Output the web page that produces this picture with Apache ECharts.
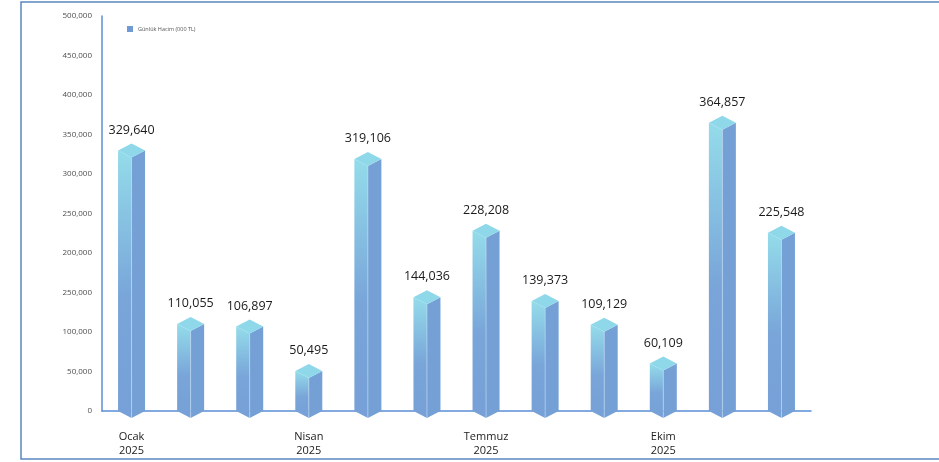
<!DOCTYPE html>
<html>
<head>
<meta charset="utf-8">
<script src="https://cdn.jsdelivr.net/npm/echarts@6/dist/echarts.min.js"></script>
<style>
  html, body { margin: 0; padding: 0; background: #fff; }
  #chart { width: 939px; height: 462px; }
</style>
</head>
<body>
<div id="chart"></div>
<script>
var categories = ['Ocak\n2025', 'Şubat\n2025', 'Mart\n2025', 'Nisan\n2025', 'Mayıs\n2025', 'Haziran\n2025',
                  'Temmuz\n2025', 'Ağustos\n2025', 'Eylül\n2025', 'Ekim\n2025', 'Kasım\n2025', 'Aralık\n2025'];
var volumes = [329640, 110055, 106897, 50495, 319106, 144036, 228208, 139373, 109129, 60109, 364857, 225548];
// y tick labels as printed on the original (the 150,000 tick reads 250,000 there)
var yTickLabels = ['0', '50,000', '100,000', '250,000', '200,000', '250,000', '300,000', '350,000', '400,000', '450,000', '500,000'];
var seriesName = 'Günlük Hacim (000 TL)';

var myChart = echarts.init(document.getElementById('chart'));

function fmt(v) {
    return v.toString().replace(/\B(?=(\d{3})+(?!\d))/g, ',');
}

function renderBar(params, api) {
    var top = api.coord([api.value(0), api.value(1)]);
    var base = api.coord([api.value(0), 0]);
    var cx = top[0], y = top[1], b = base[1];
    var w = 13.5, d = 7;
    var grad = new echarts.graphic.LinearGradient(0, 0, 0, 1, [
        { offset: 0, color: '#94dcea' },
        { offset: 0.55, color: '#79a5d9' },
        { offset: 1, color: '#76a0d7' }
    ]);
    return {
        type: 'group',
        children: [
            {   // left face
                type: 'polygon',
                shape: { points: [[cx - w, y], [cx, y + d], [cx, b + d], [cx - w, b]] },
                style: { fill: grad }
            },
            {   // right face
                type: 'polygon',
                shape: { points: [[cx, y + d], [cx + w, y], [cx + w, b], [cx, b + d]] },
                style: { fill: '#74a0d6' }
            },
            {   // edge highlight
                type: 'line',
                shape: { x1: cx, y1: y + d, x2: cx, y2: b + d },
                style: { stroke: 'rgba(200,225,245,0.7)', lineWidth: 0.8 }
            },
            {   // top face
                type: 'polygon',
                shape: { points: [[cx, y - d], [cx + w, y], [cx, y + d], [cx - w, y]] },
                style: { fill: '#8fd8ea' }
            },
            {
                type: 'text',
                style: {
                    x: cx, y: y - d - 7,
                    text: fmt(api.value(1)),
                    align: 'center', verticalAlign: 'bottom',
                    fontSize: 12.5, fill: '#1a1a1a', fontFamily: 'Open Sans'
                }
            }
        ]
    };
}

option = {
    animation: false,
    textStyle: { fontFamily: 'Open Sans' },
    grid: { left: 102, right: 128, top: 16, bottom: 51 },
    legend: {
        left: 122, top: 21,
        itemWidth: 6, itemHeight: 6, itemGap: 4,
        textStyle: { fontSize: 5.5, color: '#555' },
        data: [{ name: seriesName, icon: 'rect' }]
    },
    graphic: [{
        type: 'polyline',
        shape: { points: [[939, 2], [21, 2], [21, 459], [939, 459]] },
        style: { stroke: '#5b86c0', lineWidth: 1.5, fill: null }
    }],
    xAxis: {
        type: 'category',
        data: categories,
        axisLine: { lineStyle: { color: '#5b8fd6', width: 1.5 } },
        axisTick: { show: false },
        axisLabel: { interval: 2, margin: 19, fontSize: 11, color: '#222', lineHeight: 14 }
    },
    yAxis: {
        type: 'value',
        min: 0, max: 500000, interval: 50000,
        axisLine: { show: true, lineStyle: { color: '#5b8fd6', width: 1.5 } },
        axisTick: { show: false },
        splitLine: { show: false },
        axisLabel: {
            margin: 10, fontSize: 8, color: '#4d4d4d',
            formatter: function (v) { return yTickLabels[Math.round(v / 50000)]; }
        }
    },
    series: [{
        name: seriesName,
        type: 'custom',
        renderItem: renderBar,
        itemStyle: { color: '#6f9ad6' },
        encode: { x: 0, y: 1 },
        data: volumes.map(function (v, i) { return [i, v]; }),
        z: 3
    }]
};

myChart.setOption(option);
</script>
</body>
</html>
